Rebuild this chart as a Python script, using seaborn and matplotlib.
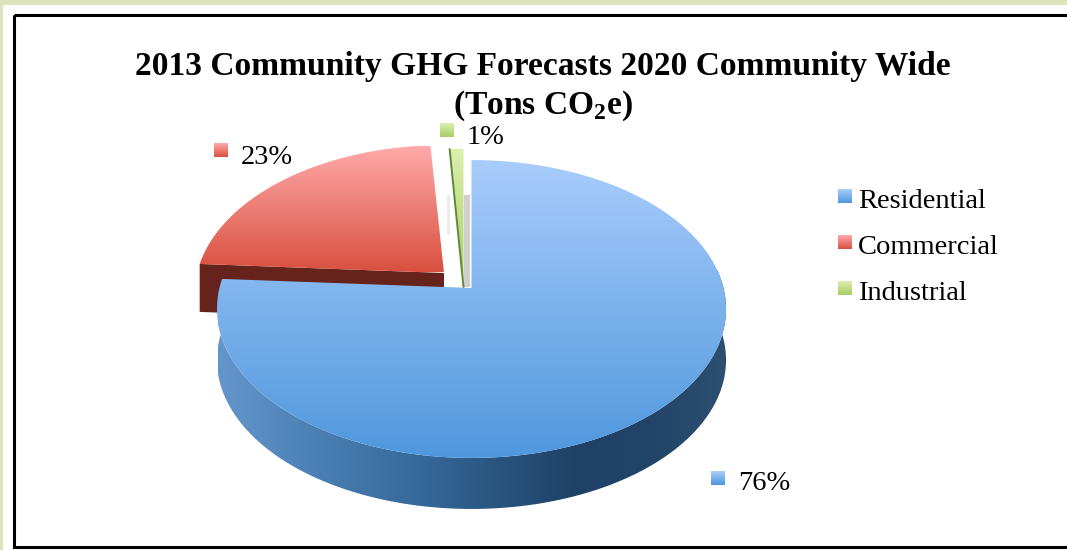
import numpy as np
import matplotlib
matplotlib.use('Agg')
import matplotlib.pyplot as plt
from matplotlib.colors import LinearSegmentedColormap
from matplotlib.patches import PathPatch, Rectangle
from matplotlib.path import Path
import seaborn as sns

categories = ['Residential', 'Commercial', 'Industrial']
shares = [76, 23, 1]
title_lines = ['2013 Community GHG Forecasts 2020 Community Wide', r'(Tons CO$_{\mathbf{2}}$e)']

top_colors = [('#a9cdfc', '#4f97dd'), ('#ffaaaa', '#d9503f'), ('#dcf0ae', '#a9cc66')]
wall_stops = [(0.0, '#6496cc'), (0.2, '#4a7fb3'), (0.4, '#35689a'), (0.55, '#28557f'),
              (0.7, '#1f4168'), (0.85, '#214468'), (1.0, '#2d4f70')]
PAGE_GREEN = '#dbe4bc'

# perspective of the disc, all in pixels
RX, RY, PERSP = 252, 146, -0.141
CENTERS = [(471.5, 288), (444, 273), (463.5, 287)]
SCALES = [(1, 1), (0.98, 1), (1, 1.08)]
DEPTH = 51


def project(theta, cx, cy, scale=(1, 1)):
    u = np.cos(np.radians(theta))
    s = -np.sin(np.radians(theta))
    w = 1 + PERSP * s
    return cx + scale[0] * RX * u / w, cy + scale[1] * RY * s / w


def wedge_path(theta1, theta2, cx, cy, scale=(1, 1)):
    t = np.linspace(theta1, theta2, 240)
    x, y = project(t, cx, cy, scale)
    return Path(np.column_stack([np.r_[cx, x, cx], np.r_[cy, y, cy]]))


def gradient_fill(ax, path, colors, extent, horizontal=False, z=2):
    cmap = LinearSegmentedColormap.from_list('g', colors)
    grad = np.linspace(0, 1, 256)
    grad = grad.reshape(1, -1) if horizontal else grad.reshape(-1, 1)
    im = ax.imshow(grad, cmap=cmap, extent=extent, aspect='auto', zorder=z, origin='upper')
    im.set_clip_path(PathPatch(path, transform=ax.transData))


def swatch(ax, x, y, colors, size=14):
    box = Path([(x, y), (x + size, y), (x + size, y + size), (x, y + size), (x, y)])
    gradient_fill(ax, box, colors, (x, x + size, y + size, y), z=6)


sns.set_theme(style='white')
plt.rcParams['font.family'] = ['Liberation Serif', 'DejaVu Serif']
plt.rcParams['mathtext.fontset'] = 'custom'
plt.rcParams['mathtext.bf'] = 'Liberation Serif:bold'

fig = plt.figure(figsize=(10.67, 5.5), dpi=100)
ax = fig.add_axes([0, 0, 1, 1])
wedges, _ = ax.pie(shares, startangle=90, counterclock=False, radius=1, frame=True)
angles = [(w.theta1, w.theta2) for w in wedges]
for w in wedges:
    w.remove()
ax.set_aspect('auto')

# page background and frame
ax.add_patch(Rectangle((0, 0), 1067, 5, color=PAGE_GREEN, lw=0, zorder=0))
ax.add_patch(Rectangle((0, 0), 3, 550, color=PAGE_GREEN, lw=0, zorder=0))
ax.add_patch(Rectangle((14, 15), 1060, 532, fill=False, ec='black', lw=2.2, zorder=1))

# shadow behind the thin slice
ax.add_patch(Rectangle((464, 195), 6, 92, color='#cfcfcf', lw=0, zorder=1.5))
ax.add_patch(Rectangle((447, 195), 3, 40, color='#ececec', lw=0, zorder=1.5))

# red and green sit behind, their cut walls first
th1, th2 = angles[1]
cx, cy = CENTERS[1]
lx, ly = project(th2, cx, cy, SCALES[1])
wall = Path([(cx, cy), (lx, ly), (lx, ly + 48), (cx, cy + 48), (cx, cy)])
ax.add_patch(PathPatch(wall, fc='#66231c', ec='none', zorder=2))
gradient_fill(ax, wedge_path(th1, th2, cx, cy, SCALES[1]), top_colors[1], (190, 450, 272, 146), z=3)

th1, th2 = angles[2]
cx, cy = CENTERS[2]
gradient_fill(ax, wedge_path(th1, th2, cx, cy, SCALES[2]), top_colors[2], (445, 470, 285, 148), z=3)
lx, ly = project(th2, cx, cy, SCALES[2])
ax.plot([lx, cx], [ly, cy], color='#5f8a3a', lw=1.4, zorder=3.5)

# blue disc: side wall then top face
th1, th2 = angles[0]
cx, cy = CENTERS[0]
x, y = project(np.linspace(th1, th2, 400), cx, cy)
side = Path(np.column_stack([np.r_[x, x[::-1]], np.r_[y, y[::-1] + DEPTH]]))
gradient_fill(ax, side, wall_stops, (218, 727, 520, 270), horizontal=True, z=4)
gradient_fill(ax, wedge_path(th1, th2, cx, cy), top_colors[0], (210, 730, 460, 158), z=5)

# title
title_font = dict(family='Liberation Serif', weight='bold', fontsize=24.15, ha='center', va='center',
                  color='black', zorder=7)
ax.text(543, 66, title_lines[0], **title_font)
ax.text(543, 106, title_lines[1], **title_font)

# percent labels
label_pos = [(738, 481), (241, 155), (467, 135)]
swatch_pos = [(711, 471), (214, 143), (440, 123)]
for i, ((lx, ly), (sx, sy)) in enumerate(zip(label_pos, swatch_pos)):
    swatch(ax, sx, sy, top_colors[i])
    ax.text(lx, ly + 2.5, f'{shares[i]}%', fontsize=20.5, va='center', ha='left', color='black', zorder=7)

# legend
legend_y = [201.5, 247.5, 293.5]
swatch_y = [189, 235, 281]
for name, colors, ly, sy in zip(categories, top_colors, legend_y, swatch_y):
    swatch(ax, 838, sy, colors)
    ax.text(858, ly, name, fontsize=20.5, va='center', ha='left', color='black', zorder=7)

ax.set_xlim(0, 1067)
ax.set_ylim(550, 0)
ax.axis('off')

fig.savefig('out.png', dpi=100)
